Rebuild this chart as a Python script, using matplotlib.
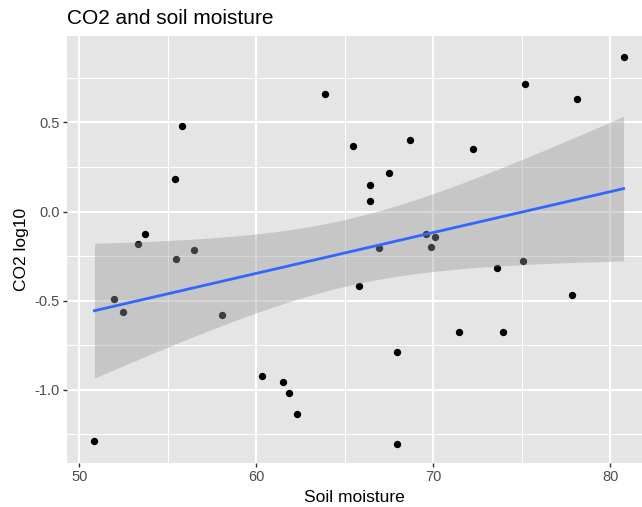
import numpy as np
import matplotlib
matplotlib.use("Agg")
import matplotlib.pyplot as plt
from matplotlib.ticker import MultipleLocator

plt.rcParams['font.family'] = ['Liberation Sans', 'DejaVu Sans']

soil_moisture = [50.85, 51.94, 52.47, 53.33, 53.69, 55.42, 55.46, 55.80, 56.48, 58.06,
                 60.32, 61.53, 61.83, 62.30, 63.86, 65.46, 65.79, 66.41, 66.41, 66.93,
                 67.50, 67.93, 67.93, 68.68, 69.59, 69.89, 70.10, 71.44, 72.23, 73.62,
                 73.95, 75.05, 75.18, 77.82, 78.12, 80.76]
co2_log10 = [-1.284, -0.492, -0.561, -0.179, -0.126, 0.185, -0.268, 0.479, -0.214, -0.582,
             -0.921, -0.954, -1.018, -1.137, 0.657, 0.367, -0.417, 0.148, 0.058, -0.205,
             0.218, -0.785, -1.301, 0.399, -0.123, -0.199, -0.143, -0.677, 0.352, -0.319,
             -0.677, -0.276, 0.714, -0.468, 0.629, 0.867]
x_ticks = [50, 60, 70, 80]
y_ticks = [-1.0, -0.5, 0.0, 0.5]
y_tick_labels = ["-1.0", "-0.5", "0.0", "0.5"]
T_CRIT = 2.032  # t(0.975, df=34)

x = np.array(soil_moisture)
y = np.array(co2_log10)
n = len(x)
slope, intercept = np.polyfit(x, y, 1)
resid = y - (slope * x + intercept)
s = np.sqrt(np.sum(resid ** 2) / (n - 2))
xs = np.linspace(x.min(), x.max(), 200)
ys = slope * xs + intercept
se = s * np.sqrt(1 / n + (xs - x.mean()) ** 2 / np.sum((x - x.mean()) ** 2))

fig = plt.figure(figsize=(6.42, 5.07), dpi=100)
ax = fig.add_axes([67 / 642, 1 - 463 / 507, (642 - 67) / 642, (463 - 36) / 507])
ax.set_facecolor('#E5E5E5')
for sp in ax.spines.values():
    sp.set_visible(False)

ax.scatter(x, y, s=28, color='black', zorder=3, linewidths=0)
ax.fill_between(xs, ys - T_CRIT * se, ys + T_CRIT * se, color='#999999', alpha=0.4,
                linewidth=0, zorder=4)
ax.plot(xs, ys, color='#3366FF', linewidth=2.0, zorder=5)

ax.set_xlim(49.3, 81.8)
ax.set_ylim(-1.41, 0.985)
ax.set_xticks(x_ticks)
ax.set_yticks(y_ticks)
ax.set_yticklabels(y_tick_labels)
ax.xaxis.set_minor_locator(MultipleLocator(5))
ax.yaxis.set_minor_locator(MultipleLocator(0.25))
ax.grid(which='major', color='white', linewidth=1.5, zorder=0)
ax.grid(which='minor', color='white', linewidth=0.75, zorder=0)
ax.set_axisbelow(True)
ax.tick_params(which='major', length=3, width=1.0, color='#333333',
               labelcolor='#4D4D4D', labelsize=10.5, pad=2)
ax.tick_params(which='minor', length=0)

ax.set_xlabel('Soil moisture', fontsize=12.5, color='black', labelpad=4)
ax.set_ylabel('CO2 log10', fontsize=12.5, color='black', labelpad=4)
fig.text(67 / 642, 1 - 18 / 507, 'CO2 and soil moisture', fontsize=15, color='black',
         ha='left', va='center')

fig.savefig('out.png', dpi=100)
